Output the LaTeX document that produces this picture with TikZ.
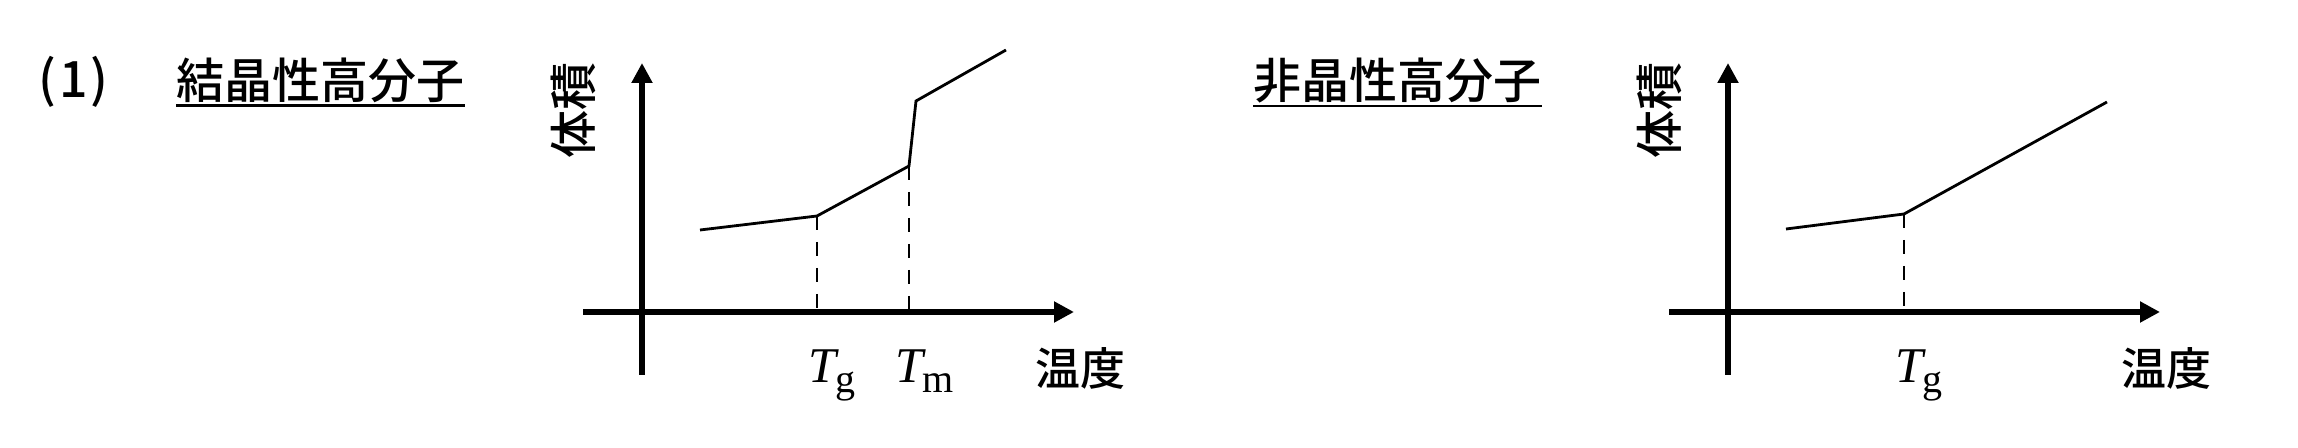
\documentclass[tikz,border=0pt]{standalone}
\usepackage{fontspec}
\newfontfamily\jp{Noto Sans CJK JP Medium}
\newfontfamily\ser{Liberation Serif}
\usetikzlibrary{arrows.meta}
\newcommand{\tsym}[1]{{\fontsize{25pt}{28pt}\ser\itshape T}\kern-0.5pt\raisebox{-5pt}{\fontsize{20pt}{24pt}\ser #1}}
\begin{document}
\begin{tikzpicture}[x=0.5pt,y=-0.5pt,
  axis/.style={line width=3.2pt,-{Triangle[length=10pt,width=10pt]}},
  curvebox/.style={line width=1.4pt,line join=miter},
  guide/.style={line width=1.35pt,dash pattern=on 7pt off 6pt},
  titlelab/.style={font=\fontsize{24pt}{28pt}\jp,inner sep=0pt,anchor=base west},
  ulineb/.style={line width=1.35pt},
  vlab/.style={font=\fontsize{24pt}{28pt}\jp,inner sep=0pt,rotate=90},
  hlab/.style={font=\fontsize{22.5pt}{26pt}\jp,inner sep=0pt},
  tlab/.style={inner sep=0pt,anchor=base west}]
\useasboundingbox (0,0) rectangle (2298,448);
\node[titlelab,font=\fontsize{25pt}{28pt}\jp] (num) at (38,98) {(\kern1.5pt1\kern1.5pt)};
\node[titlelab] (t1) at (176,99) {結晶性高分子};
\draw[ulineb] ([yshift=-1pt]t1.south west) -- ([yshift=-1pt]t1.south east);
\node[titlelab] (t2) at (1253,99) {非晶性高分子};
\draw[ulineb] ([yshift=-1pt]t2.south west) -- ([yshift=-1pt]t2.south east);
% left graph
\begin{scope}
  \coordinate (ya) at (642,375);
  \coordinate (yb) at (642,63);
  \coordinate (xa) at (583,312);
  \coordinate (xb) at (1074,312);
  \draw[axis] (ya) -- (yb);
  \draw[axis] (xa) -- (xb);
  \coordinate (c1) at (700,230);
  \coordinate (c2) at (817,216);
  \coordinate (c3) at (909,166);
  \coordinate (c4) at (916,101);
  \coordinate (c5) at (1006,50);
  \draw[curvebox] (c1) -- (c2) -- (c3) -- (c4) -- (c5);
  \coordinate (g1) at (817,312);
  \coordinate (m1) at (909,312);
  \draw[guide] (c2) -- (g1);
  \draw[guide] (c3) -- (m1);
  \node[vlab] (v1) at (573,111) {体積};
  \node[hlab] (h1) at (1080,368) {温度};
  \node[tlab] (tg1) at (808,383) {\tsym{g}};
  \node[tlab] (tm1) at (895,383) {\tsym{m}};
\end{scope}
% right graph
\begin{scope}[shift={(1086,0)}]
  \coordinate (ya2) at (642,375);
  \coordinate (yb2) at (642,63);
  \coordinate (xa2) at (583,312);
  \coordinate (xb2) at (1074,312);
  \draw[axis] (ya2) -- (yb2);
  \draw[axis] (xa2) -- (xb2);
  \coordinate (d1) at (700,229);
  \coordinate (d2) at (818,214);
  \coordinate (d3) at (1021,102);
  \draw[curvebox] (d1) -- (d2) -- (d3);
  \coordinate (g2) at (818,312);
  \draw[guide] (d2) -- (g2);
  \node[vlab] (v2) at (573,111) {体積};
  \node[hlab] (h2) at (1080,368) {温度};
  \node[tlab] (tg2) at (809,383) {\tsym{g}};
\end{scope}
\end{tikzpicture}
\end{document}
